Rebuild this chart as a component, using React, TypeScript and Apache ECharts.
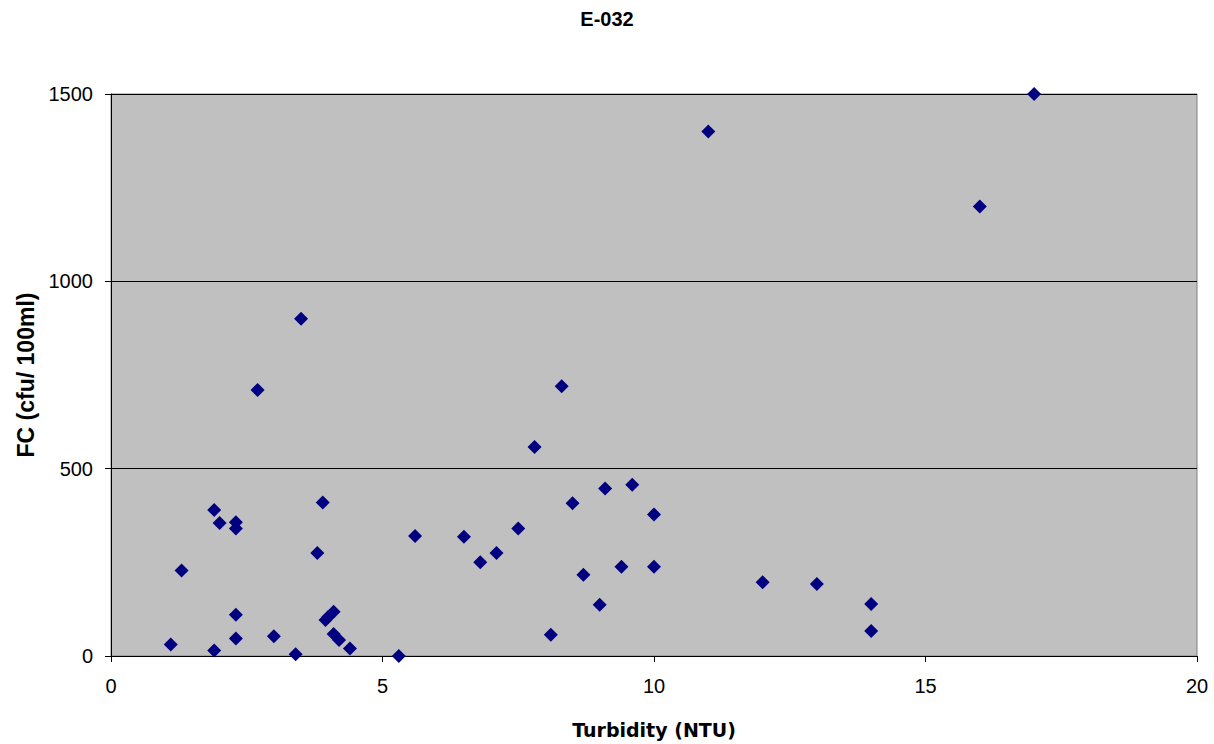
import React, { useEffect, useRef } from "react";
import * as echarts from "echarts";

const turbidity = [
  2.7, 1.9, 2.0, 2.3, 2.3, 3.9, 5.6, 3.8, 1.3, 2.3, 4.1, 3.95, 4.0, 2.3, 1.1, 1.9, 3.0, 3.4, 4.1, 4.2, 4.4, 5.3,
  8.3, 7.8, 9.1, 9.6, 8.5, 10, 6.5, 7.5, 7.1, 6.8, 8.7, 9.4, 10, 9.0, 8.1,
  11, 17, 16, 3.5, 12, 13, 14, 14,
];
const fc = [
  710, 390, 355, 357, 340, 410, 320, 275, 228, 110, 118, 96, 104, 47, 31, 15, 53, 5, 59, 43, 20, 0,
  720, 558, 447, 457, 408, 378, 318, 340, 275, 250, 217, 238, 238, 137, 57,
  1400, 1500, 1200, 900, 197, 192, 139, 67,
];
const xTicks = [0, 5, 10, 15, 20];
const yTicks = [0, 500, 1000, 1500];

export default function App() {
  const ref = useRef<HTMLDivElement>(null);
  useEffect(() => {
    if (!ref.current) return;
    const chart = echarts.init(ref.current, null, { renderer: "svg" });
    const points = turbidity.map((t, i) => [t, fc[i]]);
    chart.setOption({
      animation: false,
      backgroundColor: "#ffffff",
      title: {
        text: "E-032",
        left: "center",
        top: 4,
        textStyle: { fontFamily: "Liberation Sans", fontWeight: "bold", fontSize: 20, color: "#000" },
      },
      grid: {
        left: 111,
        right: 17,
        top: 94,
        bottom: 88,
        show: true,
        backgroundColor: "#C0C0C0",
        borderColor: "#808080",
        borderWidth: 1,
      },
      xAxis: {
        type: "value",
        min: xTicks[0],
        max: xTicks[xTicks.length - 1],
        interval: 5,
        name: "Turbidity (NTU)",
        nameLocation: "middle",
        nameGap: 64,
        nameTextStyle: { fontFamily: "DejaVu Sans", fontWeight: "bold", fontSize: 19, color: "#000" },
        axisLine: { show: true, lineStyle: { color: "#000", width: 1 } },
        axisTick: { show: true, inside: false, length: 6, lineStyle: { color: "#000" } },
        axisLabel: { fontFamily: "Liberation Sans", fontSize: 20, color: "#000", margin: 20, formatter: (v: number) => String(v) },
        splitLine: { show: false },
      },
      yAxis: {
        type: "value",
        min: yTicks[0],
        max: yTicks[yTicks.length - 1],
        interval: 500,
        name: "FC (cfu/ 100ml)",
        nameLocation: "middle",
        nameGap: 74,
        nameTextStyle: { fontFamily: "Liberation Sans", fontWeight: "bold", fontSize: 23, color: "#000" },
        axisLine: { show: true, lineStyle: { color: "#000", width: 1 } },
        axisTick: { show: true, inside: false, length: 6, lineStyle: { color: "#000" } },
        axisLabel: { fontFamily: "Liberation Sans", fontSize: 20, color: "#000", margin: 18, formatter: (v: number) => String(v) },
        splitLine: { show: true, lineStyle: { color: "#000", width: 1 } },
      },
      series: [
        {
          type: "scatter",
          data: points,
          symbol: "diamond",
          symbolSize: 14,
          itemStyle: { color: "#000080", opacity: 1 },
        },
      ],
    });
    return () => chart.dispose();
  }, []);
  return <div ref={ref} style={{ position: "absolute", left: 0, top: 0, width: 1214, height: 744 }} />;
}
